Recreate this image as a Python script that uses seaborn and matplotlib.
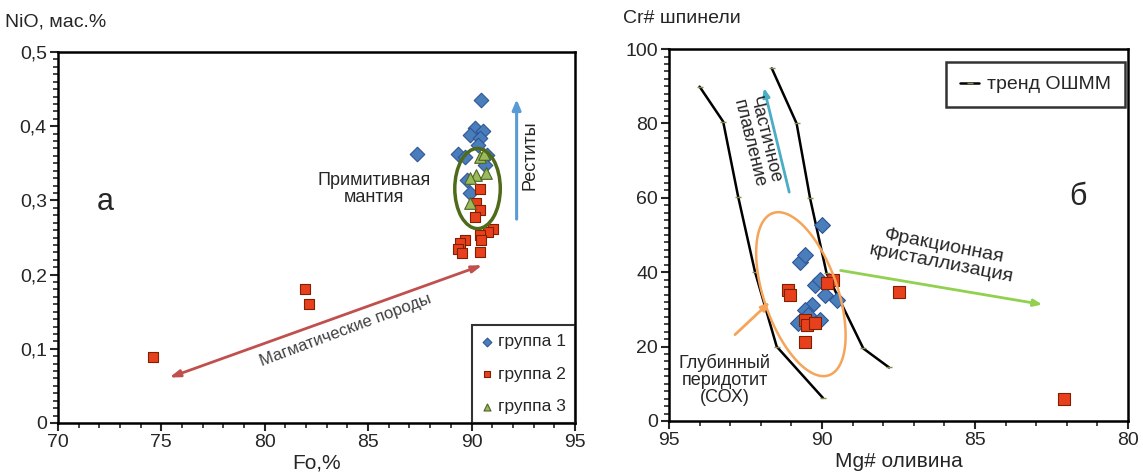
import numpy as np
import pandas as pd
import seaborn as sns
import matplotlib
matplotlib.use("Agg")
import matplotlib.pyplot as plt
from matplotlib.patches import Ellipse
from matplotlib.ticker import MultipleLocator

sns.set_style("white")
plt.rcParams["font.family"] = ["Liberation Sans", "DejaVu Sans"]

# ---- left panel: NiO vs Fo ----
g1_fo = [90.48, 87.34, 90.16, 90.57, 89.92, 90.40, 90.32, 89.36, 89.68, 90.73, 90.65, 89.76, 89.92]
g1_nio = [0.435, 0.363, 0.397, 0.393, 0.388, 0.384, 0.375, 0.363, 0.359, 0.361, 0.348, 0.327, 0.310]
g2_fo = [74.58, 81.94, 82.15, 90.40, 90.24, 90.40, 90.16, 91.05, 90.81, 90.40, 90.48, 89.68, 89.44, 89.36, 89.52, 90.40]
g2_nio = [0.089, 0.181, 0.160, 0.316, 0.296, 0.287, 0.278, 0.262, 0.258, 0.253, 0.247, 0.247, 0.242, 0.235, 0.229, 0.231]
g3_fo = [90.40, 90.60, 90.20, 90.68, 89.92, 89.92]
g3_nio = [0.359, 0.362, 0.334, 0.337, 0.330, 0.296]

left_xticks = [70, 75, 80, 85, 90, 95]
left_yticks = [0, 0.1, 0.2, 0.3, 0.4, 0.5]
left_yticklabels = ["0", "0,1", "0,2", "0,3", "0,4", "0,5"]

# ---- right panel: Cr# spinel vs Mg# olivine ----
b_mg = [90.01, 90.72, 90.56, 90.23, 90.07, 89.90, 89.52, 90.34, 90.56, 90.77, 90.07, 90.45]
b_cr = [52.7, 42.8, 44.6, 36.6, 37.9, 33.9, 32.5, 31.2, 29.8, 26.3, 27.2, 28.5]
r_mg = [91.10, 91.05, 89.63, 89.85, 90.56, 90.50, 90.23, 90.56, 87.50, 82.10]
r_cr = [35.2, 33.9, 37.9, 37.0, 27.2, 25.8, 26.3, 21.3, 34.7, 6.0]

trend1_mg = [94.0, 93.23, 92.74, 92.19, 91.48, 89.97]
trend1_cr = [89.9, 80.5, 60.3, 40.1, 20.0, 6.2]
trend2_mg = [91.64, 90.83, 90.39, 89.85, 88.65, 87.81]
trend2_cr = [94.8, 80.0, 59.9, 39.7, 19.5, 14.4]

right_xticks = [95, 90, 85, 80]
right_yticks = [0, 20, 40, 60, 80, 100]

BLUE, BLUE_E = "#4a7ebb", "#2f5597"
RED, RED_E = "#e8401c", "#7f2000"
GREEN, GREEN_E = "#9bbb59", "#4f6228"

left = pd.concat([
    pd.DataFrame({"fo": g1_fo, "nio": g1_nio, "grp": "группа 1"}),
    pd.DataFrame({"fo": g2_fo, "nio": g2_nio, "grp": "группа 2"}),
    pd.DataFrame({"fo": g3_fo, "nio": g3_nio, "grp": "группа 3"}),
])
styles = {"группа 1": ("D", BLUE, BLUE_E, 55),
          "группа 2": ("s", RED, RED_E, 60),
          "группа 3": ("^", GREEN, GREEN_E, 70)}

fig = plt.figure(figsize=(11.43, 4.75), dpi=100)
ax1 = fig.add_axes([0.0507, 0.1095, 0.4523, 0.781])
ax2 = fig.add_axes([0.5853, 0.1137, 0.4016, 0.783])

for grp, (m, fc, ec, s) in styles.items():
    d = left[left.grp == grp]
    sns.scatterplot(data=d, x="fo", y="nio", marker=m, color=fc, edgecolor=ec,
                    linewidth=0.8, s=s, ax=ax1, label=grp, zorder=3)

ax1.add_patch(Ellipse((90.29, 0.316), 2.2, 0.108, fill=False, edgecolor="#4f6b1a",
                      lw=2.5, zorder=4))
ax1.annotate("", xy=(92.18, 0.44), xytext=(92.18, 0.271),
             arrowprops=dict(arrowstyle="-|>,head_length=0.6,head_width=0.25",
                             color="#5b9bd5", lw=2.2))
ax1.annotate("", xy=(75.26, 0.06), xytext=(90.65, 0.214),
             arrowprops=dict(arrowstyle="<|-|>,head_length=0.6,head_width=0.2",
                             color="#c0504d", lw=2))
ax1.text(92.85, 0.361, "Реститы", rotation=90, ha="center", va="center", fontsize=13)
ax1.text(83.9, 0.125, "Магматические породы", rotation=20.5, ha="center",
         va="center", fontsize=12, color="#404040", rotation_mode="anchor")
ax1.text(85.3, 0.315, "Примитивная\nмантия", ha="center", va="center",
         fontsize=13, linespacing=1.0)
ax1.text(72.3, 0.298, "а", ha="center", va="center", fontsize=22)

ax1.set_xlim(70, 95)
ax1.set_ylim(0, 0.5)
ax1.set_xticks(left_xticks)
ax1.set_yticks(left_yticks)
ax1.set_yticklabels(left_yticklabels)
ax1.xaxis.set_minor_locator(MultipleLocator(1))
ax1.yaxis.set_minor_locator(MultipleLocator(0.01))
ax1.set_xlabel("Fo,%", fontsize=15, labelpad=2)
ax1.set_ylabel("")
ax1.legend(loc="lower right", borderaxespad=0, fancybox=False, edgecolor="black",
           fontsize=12.5, markerscale=0.6, handlelength=0.7, handletextpad=0.3,
           labelspacing=1.0, borderpad=0.5).get_frame().set_linewidth(1.5)

# right panel
ax2.plot(trend1_mg, trend1_cr, color="black", lw=1.8, marker="_", ms=5,
         mec="#8a8a50", label="тренд ОШММ", zorder=2)
ax2.plot(trend2_mg, trend2_cr, color="black", lw=1.8, marker="_", ms=5,
         mec="#8a8a50", zorder=2)
sns.scatterplot(x=b_mg, y=b_cr, marker="D", color=BLUE, edgecolor=BLUE_E,
                linewidth=0.8, s=65, ax=ax2, zorder=3)
sns.scatterplot(x=r_mg, y=r_cr, marker="s", color=RED, edgecolor=RED_E,
                linewidth=0.8, s=65, ax=ax2, zorder=3)

t = np.linspace(0, 2 * np.pi, 200)
cx, cy = 90.69, 34.1
ax2.plot(cx + 0.915 * np.cos(t) - 1.14 * np.sin(t),
         cy + 21.8 * np.cos(t) + 3.25 * np.sin(t),
         color="#f5a45a", lw=1.8, zorder=4)

ax2.annotate("", xy=(91.92, 90.3), xytext=(91.05, 60.8),
             arrowprops=dict(arrowstyle="-|>,head_length=0.5,head_width=0.2",
                             color="#4bacc6", lw=2))
ax2.annotate("", xy=(82.71, 31.2), xytext=(89.48, 40.6),
             arrowprops=dict(arrowstyle="-|>,head_length=0.5,head_width=0.2",
                             color="#92d050", lw=2))
ax2.annotate("", xy=(91.64, 32.5), xytext=(92.91, 22.7),
             arrowprops=dict(arrowstyle="-|>,head_length=0.5,head_width=0.2",
                             color="#f5a45a", lw=2))

ax2.text(92.13, 75.1, "Частичное\nплавление", rotation=-76, ha="center",
         va="center", fontsize=13, linespacing=1.0)
ax2.text(86.05, 44.6, "Фракционная\nкристаллизация", rotation=-11, ha="center",
         va="center", fontsize=14, linespacing=1.0)
ax2.text(93.17, 11.0, "Глубинный\nперидотит\n(СОХ)", ha="center", va="center",
         fontsize=13, linespacing=1.0)
ax2.text(81.63, 60.2, "б", ha="center", va="center", fontsize=22)

ax2.set_xlim(95, 80)
ax2.set_ylim(0, 100)
ax2.set_xticks(right_xticks)
ax2.set_yticks(right_yticks)
ax2.xaxis.set_minor_locator(MultipleLocator(1))
ax2.yaxis.set_minor_locator(MultipleLocator(2))
ax2.set_xlabel("Mg# оливина", fontsize=15, labelpad=2)
ax2.legend(loc="upper right", bbox_to_anchor=(0.993, 0.965), borderaxespad=0,
           fancybox=False, edgecolor="black", fontsize=14, handlelength=1.0,
           handletextpad=0.4, borderpad=0.7).get_frame().set_linewidth(1.8)

for ax in (ax1, ax2):
    for sp in ax.spines.values():
        sp.set_visible(True)
        sp.set_color("black")
        sp.set_linewidth(1.8)
    ax.tick_params(which="major", direction="out", length=6, width=1.5,
                   labelsize=14, left=True, bottom=True, pad=2)
    ax.tick_params(which="minor", direction="out", length=3.5, width=1.2,
                   left=True, bottom=True)

fig.text(0.004, 0.954, "NiO, мас.%", fontsize=14, ha="left", va="center")
fig.text(0.545, 0.962, "Cr# шпинели", fontsize=14, ha="left", va="center")

fig.savefig("out.png", dpi=100)
